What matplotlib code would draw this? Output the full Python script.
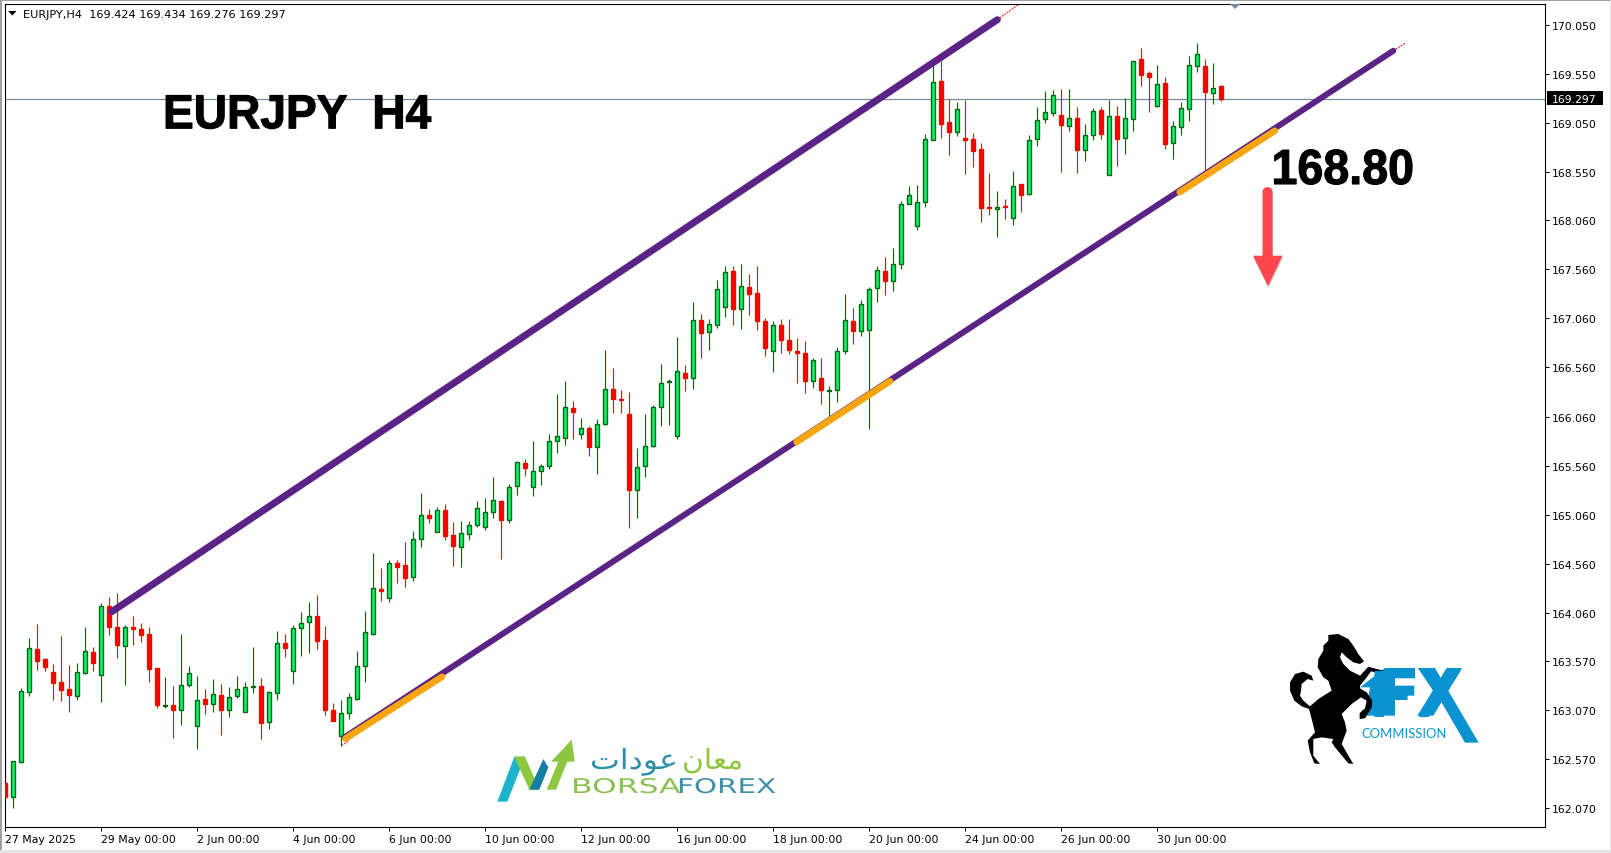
import matplotlib
matplotlib.use("Agg")
import matplotlib.pyplot as plt
from matplotlib.patches import Polygon, Rectangle
from matplotlib.patheffects import AbstractPathEffect
from matplotlib.transforms import Affine2D

# ---------------- data (EURJPY H4) ----------------
opens = [
162.328,162.188,162.545,163.258,163.689,163.587,163.454,163.353,163.285,163.217,
163.451,163.658,163.424,164.126,163.913,163.726,163.913,163.896,163.841,163.495,
163.115,163.118,163.074,163.329,162.911,163.179,163.129,163.220,163.074,163.210,
163.047,163.302,163.312,162.945,163.241,163.753,163.465,163.902,163.963,164.025,
163.780,163.068,162.810,163.037,163.186,163.516,163.848,164.303,164.215,164.568,
164.547,164.428,164.817,165.062,164.885,165.113,164.851,164.733,164.865,164.957,
164.936,165.089,165.204,165.007,165.357,165.591,165.347,165.506,165.557,165.815,
165.842,166.151,165.886,165.948,165.754,165.985,166.345,166.243,166.090,165.316,
165.557,165.761,166.161,166.413,165.864,166.508,166.457,167.038,166.916,166.994,
167.180,167.537,167.150,167.384,167.313,167.028,166.732,166.987,166.844,166.732,
166.702,166.424,166.457,166.322,166.335,166.729,167.028,166.933,166.946,167.364,
167.537,167.445,167.618,168.229,168.001,168.249,168.880,169.474,169.057,168.962,
168.894,168.884,168.782,168.191,168.174,168.201,168.086,168.425,168.327,168.890,
169.091,169.152,169.128,169.019,169.097,168.775,168.931,169.179,168.524,169.118,
168.897,169.091,169.698,169.556,169.223,169.454,168.846,169.013,169.196,169.630,
169.627,169.355,169.424]
highs = [
162.589,162.548,163.295,163.804,163.947,163.600,163.536,163.821,163.529,163.549,
163.916,163.712,164.157,164.221,164.262,163.936,164.025,163.957,163.916,163.499,
163.407,163.315,163.845,163.519,163.417,163.285,163.387,163.336,163.305,163.417,
163.356,163.712,163.393,163.261,163.872,163.845,163.933,164.069,164.171,164.242,
163.923,163.142,163.169,163.244,163.672,164.079,164.669,164.517,164.602,164.595,
164.781,164.893,165.286,165.116,165.143,165.167,164.984,164.994,165.001,165.204,
165.235,165.442,165.214,165.377,165.612,165.632,165.815,165.581,165.886,166.294,
166.419,166.216,166.043,165.968,166.039,166.735,166.552,166.335,166.307,165.737,
166.083,166.182,166.592,166.440,166.868,166.583,167.225,167.102,167.051,167.455,
167.588,167.588,167.611,167.510,167.588,167.068,167.028,167.051,167.051,166.855,
166.834,166.654,166.654,166.369,166.763,167.303,167.160,167.242,167.384,167.588,
167.683,167.774,168.252,168.405,168.415,168.934,169.698,169.681,169.298,169.260,
169.281,168.945,168.850,168.537,168.354,168.279,168.558,168.425,168.924,169.209,
169.372,169.382,169.393,169.393,169.209,169.036,169.199,169.209,169.281,169.220,
169.301,169.685,169.810,169.576,169.637,169.515,169.067,169.260,169.729,169.861,
169.705,169.657,169.434]
lows = [
162.158,162.076,162.531,163.217,163.482,163.471,163.176,163.163,163.054,163.176,
163.441,163.468,163.156,163.835,163.604,163.329,163.733,163.767,163.359,163.095,
163.095,162.789,162.922,163.308,162.674,163.034,163.054,162.816,163.003,163.196,
163.047,163.244,162.776,162.877,163.176,163.611,163.336,163.624,163.651,163.692,
163.023,162.962,162.708,162.979,163.176,163.356,163.838,164.181,164.171,164.364,
164.323,164.384,164.733,164.974,164.885,164.804,164.536,164.530,164.804,164.936,
164.906,165.028,164.608,164.977,165.262,165.455,165.252,165.364,165.527,165.690,
165.771,165.829,165.832,165.659,165.476,165.975,166.094,166.094,164.926,165.028,
165.445,165.751,165.965,165.975,165.833,166.318,166.342,166.658,166.736,166.963,
167.075,166.994,166.953,167.096,166.943,166.678,166.515,166.709,166.698,166.403,
166.301,166.352,166.189,166.067,166.210,166.698,166.800,166.882,165.935,167.228,
167.299,167.340,167.563,168.229,167.960,168.195,168.880,168.894,168.724,168.917,
168.527,168.598,168.042,168.110,167.889,168.069,168.011,168.140,168.317,168.812,
169.046,169.118,168.548,168.968,168.537,168.660,168.873,168.884,168.524,168.609,
168.731,168.965,169.423,169.158,169.213,168.782,168.680,168.924,169.067,169.566,
168.558,169.240,169.276]
closes = [
162.182,162.548,163.261,163.699,163.573,163.512,163.349,163.278,163.227,163.454,
163.668,163.553,164.126,163.919,163.736,163.913,163.899,163.838,163.492,163.125,
163.122,163.074,163.322,163.444,163.169,163.135,163.230,163.074,163.200,163.281,
163.302,163.315,162.942,163.251,163.750,163.706,163.902,163.953,164.025,163.777,
163.074,162.962,163.037,163.200,163.516,163.862,164.310,164.283,164.564,164.530,
164.414,164.811,165.062,165.028,165.113,164.845,164.743,164.878,164.960,165.133,
165.092,165.214,165.007,165.347,165.601,165.537,165.510,165.561,165.815,165.866,
166.161,166.107,165.948,165.751,165.988,166.345,166.239,166.229,165.313,165.551,
165.764,166.161,166.406,166.426,166.519,166.454,167.038,166.912,167.007,167.354,
167.527,167.157,167.394,167.309,167.034,166.760,166.987,166.841,166.739,166.709,
166.424,166.631,166.332,166.335,166.732,167.038,166.926,167.201,167.354,167.547,
167.445,167.618,168.229,168.320,168.249,168.890,169.471,169.040,168.958,169.196,
168.877,168.765,168.184,168.181,168.191,168.191,168.412,168.317,168.880,169.084,
169.165,169.338,169.029,169.104,168.775,168.931,169.175,168.938,169.124,168.887,
169.104,169.685,169.539,169.515,169.450,168.833,169.023,169.206,169.644,169.756,
169.365,169.410,169.297]

price_ticks = [170.05,169.55,169.05,168.55,168.06,167.56,167.06,166.56,
               166.06,165.56,165.06,164.56,164.06,163.57,163.07,162.57,162.07]
time_labels = ["27 May 2025","29 May 00:00","2 Jun 00:00","4 Jun 00:00","6 Jun 00:00",
               "10 Jun 00:00","12 Jun 00:00","16 Jun 00:00","18 Jun 00:00",
               "20 Jun 00:00","24 Jun 00:00","26 Jun 00:00","30 Jun 00:00"]
time_positions = [0,12,24,36,48,60,72,84,96,108,120,132,144]

# channel lines: (bar index, price)
upper_line = ([13.3,124.0],[164.072,170.101])
upper_ext  = ([124.0,126.6],[170.101,170.254])
lower_line = ([42.4,173.5],[162.793,169.785])
lower_ext  = ([173.5,175.0],[169.785,169.864])
lower_start = ([42.0,43.0],[162.708,162.76])
touch_1 = ([42.5,54.6],[162.78,163.41])
touch_2 = ([98.9,110.6],[165.80,166.42])
touch_3 = ([146.8,158.7],[168.345,168.97])

# ---------------- layout ----------------
W, H = 1611, 854
fig = plt.figure(figsize=(W/100, H/100), dpi=100, facecolor="#ffffff")
L, R, T, B = 4.7, 1545.3, 4.5, 828.3
ax = fig.add_axes([L/W, 1-B/H, (R-L)/W, (B-T)/H])
ax.set_xlim((L-5.33)/8, (R-5.33)/8)
ax.set_ylim(170.05-(B-25.7)/98.2, 170.05-(T-25.7)/98.2)

TXT = 7.85
PX = 0.72
GREEN_BODY, GREEN_LINE, RED = "#00F26E", "#0B640B", "#FF0000"

xs = list(range(len(opens)))
up = [c >= o for o, c in zip(opens, closes)]
for cond, line, face in ((True, GREEN_LINE, GREEN_BODY), (False, RED, RED)):
    idx = [i for i in xs if up[i] == cond]
    ax.vlines(idx, [lows[i] for i in idx], [highs[i] for i in idx],
              colors=line, linewidth=1.0*PX*1.15, zorder=2)
    ax.bar(idx, [abs(closes[i]-opens[i]) for i in idx], width=0.5,
           bottom=[min(opens[i], closes[i]) for i in idx],
           facecolor=face, edgecolor=line, linewidth=1.35*PX, zorder=3)

last = closes[-1]
ax.axhline(last, color="#778899", linewidth=1.0*PX*1.2, zorder=1)

PURPLE, ORANGE = "#5C2387", "#F5A60F"
ax.plot(*upper_ext, color="#FF0000", lw=0.7, ls=(0,(2,1)), zorder=4)
ax.plot(*lower_ext, color="#FF0000", lw=0.7, ls=(0,(2,1)), zorder=4)
ax.plot(*lower_start, color="#FF0000", lw=0.7, ls=(0,(2,1)), zorder=4)
ax.plot(*upper_line, color=PURPLE, lw=7.0*PX, solid_capstyle="round", zorder=5)
ax.plot(*lower_line, color=PURPLE, lw=6.0*PX, solid_capstyle="round", zorder=5)
for seg in (touch_1, touch_2, touch_3):
    ax.plot(*seg, color=ORANGE, lw=6.6*PX, solid_capstyle="round", zorder=6)

ax.yaxis.tick_right()
ax.set_yticks(price_ticks)
ax.set_yticklabels([f"{p:.3f}" for p in price_ticks], fontsize=TXT, color="#000000")
ax.set_xticks(time_positions)
ax.set_xticklabels(time_labels, fontsize=TXT, ha="left", color="#000000")
ax.tick_params(axis="y", direction="out", length=3.2, width=PX, pad=1.6)
ax.tick_params(axis="x", direction="out", length=3.2, width=PX, pad=1.6)
for s in ax.spines.values():
    s.set_linewidth(1.1*PX)
    s.set_color("#000000")

# ---------------- overlay in pixel coordinates ----------------
ov = fig.add_axes([0, 0, 1, 1], zorder=5)
ov.set_xlim(0, W); ov.set_ylim(H, 0); ov.axis("off"); ov.patch.set_alpha(0)


class Stretch(AbstractPathEffect):
    """Stretch a text horizontally from its start, with an optional outline."""
    def __init__(self, sx, lw=0):
        super().__init__()
        self.sx, self.lw = sx, lw
    def draw_path(self, renderer, gc, tpath, affine, rgbFace=None):
        g = renderer.new_gc()
        g.copy_properties(gc)
        g.set_linewidth(self.lw)
        if rgbFace is not None:
            g.set_foreground(rgbFace)
        renderer.draw_path(g, tpath, Affine2D().scale(self.sx, 1) + affine, rgbFace)
        g.restore()


def poly(points, ox, oy, color, scale=1/3, **kw):
    ov.add_patch(Polygon([(ox+x*scale, oy+y*scale) for x, y in points], closed=True,
                         facecolor=color, edgecolor="none", **kw))


# window edges
ov.add_patch(Rectangle((0, 0), W, 2.2, fc="#A0A0A0", ec="none"))
ov.add_patch(Rectangle((0, 0), 1.5, H, fc="#A0A0A0", ec="none"))
ov.add_patch(Rectangle((0, 851), W, 3, fc="#E3E3E3", ec="none"))
ov.add_patch(Rectangle((1609.5, 0), 1.5, H, fc="#E3E3E3", ec="none"))

# header
poly([(8.2, 12), (16.4, 12), (12.3, 16.6)], 0, 0, "#000000", scale=1)
ov.text(23.3, 14.8, "EURJPY,H4  169.424 169.434 169.276 169.297", fontsize=8.15,
        va="center", ha="left", color="#000000")
poly([(1230, 5), (1240, 5), (1235, 10)], 0, 0, "#778899", scale=1)

# last price tag
ov.add_patch(Rectangle((1546.7, 92), 56.3, 14, fc="#000000", ec="none"))
ov.text(1552, 100, f"{last:.3f}", fontsize=TXT, color="#FFFFFF", va="center", ha="left")

# big captions
ov.text(163, 129.3, "EURJPY  H4", family="Liberation Sans", weight="bold", fontsize=34.4,
        color="#000000", va="baseline", ha="left", path_effects=[Stretch(0.965, 0.8)])
ov.text(1271.5, 185, "168.80", family="Liberation Sans", weight="bold", fontsize=35.5,
        color="#000000", va="baseline", ha="left", path_effects=[Stretch(0.945, 0.8)])

# red arrow (soft shadow + arrow)
arrow = [(1262.5, 192), (1264, 189), (1267.5, 188), (1271, 189), (1272.5, 192), (1272.5, 256.7),
         (1282.5, 256.7), (1268, 287), (1253, 256.7), (1262.5, 256.7)]
for d, a in ((3, .06), (2, .08), (1, .1)):
    poly([(x+d*.3, y+d) for x, y in arrow], 0, 0, "#000000", scale=1, alpha=a)
poly(arrow, 0, 0, "#FF474D", scale=1)

# BorsaForex logo
LX, LY = 480, 720
poly([(52,248),(103,113),(135,113),(82,248)], LX, LY, "#1FB4CE")
poly([(103,113),(135,113),(178,212),(148,212)], LX, LY, "#8DC63F")
poly([(148,212),(178,212),(205,145),(190,120)], LX, LY, "#137FA3")
poly([(200,212),(235,128),(213,128),(275,62),(284,128),(262,128),(228,212)], LX, LY, "#8DC63F")
ov.text(571, 794, "BORSA", fontsize=14.6, color="#8CC152", va="baseline", ha="left",
        path_effects=[Stretch(1.55)])
ov.text(677, 794, "FOREX", fontsize=14.6, color="#3F8FA6", va="baseline", ha="left",
        path_effects=[Stretch(1.45)])
ov.text(590, 770, "\uFE95\uFE8D\uFEA9\uFEEE\uFECB", family="DejaVu Sans", fontsize=20,
        color="#2E8FA8", va="baseline", ha="left", path_effects=[Stretch(1.14)])
ov.text(682, 770, "\uFEE5\uFE8E\uFECC\uFEE3", family="DejaVu Sans", fontsize=20,
        color="#8DC63F", va="baseline", ha="left", path_effects=[Stretch(1.07)])

# FX Commission logo
BLUE = "#0A93D0"
ov.text(1370, 716.7, "F", family="Liberation Sans", weight="bold", fontsize=48, color=BLUE,
        va="baseline", ha="left")
ov.text(1417.5, 716.7, "X", family="Liberation Sans", weight="bold", fontsize=48, color=BLUE,
        va="baseline", ha="left")
FX, FY = 1270, 620
poly([(345,147),(435,147),(435,178),(375,178),(375,200),(433,200),(433,230),(375,230),
      (375,290),(285,290),(300,205),(270,205)], FX, FY, BLUE)
poly([(443,147),(495,147),(626,371),(585,371),(500,225)], FX, FY, BLUE)
poly([(530,147),(576,147),(490,290),(442,290)], FX, FY, BLUE)
ov.text(1361.5, 738.4, "COMMISSION", family="Lato", fontsize=9.4, color=BLUE,
        va="baseline", ha="left")
horse = [(130,18),(160,15),(190,30),(205,50),(220,75),(237,97),(225,105),(205,100),(185,85),
         (170,70),(165,85),(175,105),(195,125),(225,140),(250,113),(275,120),(316,130),(314,142),
         (290,135),(258,127),(245,145),(225,170),(225,178),(245,190),(262,215),(260,235),(240,268),
         (224,270),(224,252),(240,238),(245,215),(228,205),(200,225),(170,255),(180,280),(185,305),
         (170,345),(205,405),(190,403),(150,355),(140,340),(145,330),(110,325),(85,330),(85,380),
         (105,405),(88,403),(75,370),(68,335),(90,310),(80,270),(72,240),(50,232),(28,215),(15,185),
         (15,160),(30,135),(55,128),(80,140),(85,155),(68,150),(50,165),(48,185),(45,200),(55,215),
         (75,232),(100,210),(140,185),(130,155),(115,145),(98,115),(100,90),(115,65),(115,50),(130,35)]
poly(horse, 1285, 630, "#000000")

fig.savefig("out.png", dpi=100, facecolor=fig.get_facecolor())
